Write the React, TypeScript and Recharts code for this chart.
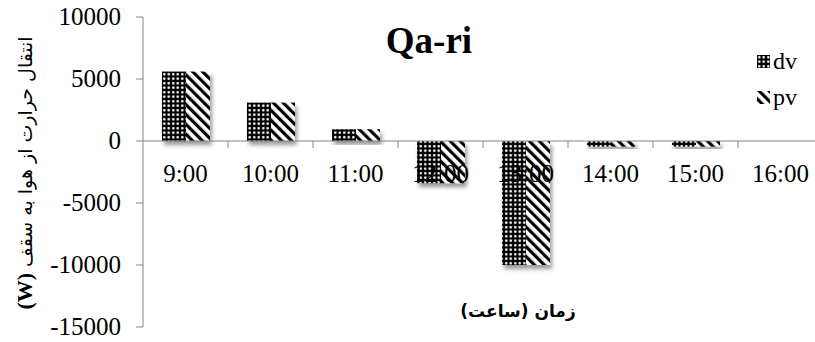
import React from 'react';
import { BarChart, Bar, XAxis, YAxis, ReferenceLine } from 'recharts';

const hours = ['9:00', '10:00', '11:00', '12:00', '13:00', '14:00', '15:00', '16:00'];
const dv = [5600, 3100, 950, -3400, -10000, -450, -450, 0];
const pv = [5600, 3100, 950, -3400, -10000, -450, -450, 0];
const seriesNames = ['dv', 'pv'];
const yTicks = [-15000, -10000, -5000, 0, 5000, 10000];
const Y_MIN = -15000;
const Y_MAX = 10000;

const data = hours.map((h, i) => ({ hour: h, dv: dv[i], pv: pv[i] }));

const W = 830;
const H = 342;
const X_AXIS_H = 1;
const M = { top: 17, right: 7, bottom: 15 - X_AXIS_H, left: 0 };
const Y_AXIS_W = 143;
const PLOT_W = W - M.left - M.right - Y_AXIS_W;
const PLOT_H = H - M.top - M.bottom - X_AXIS_H;
const BAND = PLOT_W / hours.length;
const ZERO_Y = M.top + (PLOT_H * (Y_MAX - 0)) / (Y_MAX - Y_MIN);

const AXIS = '#868686';
const SERIF = "'Liberation Serif', 'Times New Roman', serif";
const ARABIC = "'DejaVu Sans', sans-serif";

const XTick = (props: any) => {
  const { x, payload } = props;
  return (
    <g>
      <line x1={x + BAND / 2} x2={x + BAND / 2} y1={ZERO_Y} y2={ZERO_Y + 7} stroke={AXIS} strokeWidth={1} />
      <text x={x} y={ZERO_Y + 41} textAnchor="middle" style={{ fontFamily: SERIF, fontSize: 25 }} fill="#000">
        {payload.value}
      </text>
    </g>
  );
};

const YTick = (props: any) => {
  const { x, y, payload } = props;
  return (
    <text x={x} y={y} dy={8} textAnchor="end" style={{ fontFamily: SERIF, fontSize: 25 }} fill="#000">
      {payload.value}
    </text>
  );
};

const makeShape = (fillId: string) => (props: any) => {
  const { x, y, width, height } = props;
  if (!height) return <g />;
  const yy = height < 0 ? y + height : y;
  const hh = Math.abs(height);
  return <rect x={x} y={yy} width={width} height={hh} fill={`url(#${fillId})`} filter="url(#barShadow)" />;
};

export default function App() {
  return (
    <div style={{ position: 'absolute', left: 0, top: 0, width: 815, height: 342, overflow: 'hidden', background: '#fff' }}>
      <BarChart width={W} height={H} data={data} margin={M} barGap={0} barSize={24}>
        <defs>
          <pattern id="patDv" width={4.5} height={4.5} patternUnits="userSpaceOnUse">
            <rect width={4.5} height={4.5} fill="#000" />
            <circle cx={2.25} cy={2.25} r={1.3} fill="#fff" />
          </pattern>
          <pattern id="patPv" width={7} height={7} patternUnits="userSpaceOnUse" patternTransform="rotate(-45)">
            <rect width={7} height={7} fill="#fff" />
            <rect width={3.2} height={7} fill="#000" />
          </pattern>
          <filter id="barShadow" x="-20%" y="-20%" width="150%" height="150%">
            <feGaussianBlur in="SourceAlpha" stdDeviation={2} />
            <feOffset dx={2} dy={4} result="off" />
            <feComponentTransfer>
              <feFuncA type="linear" slope={0.4} />
            </feComponentTransfer>
            <feMerge>
              <feMergeNode />
              <feMergeNode in="SourceGraphic" />
            </feMerge>
          </filter>
        </defs>
        <YAxis
          width={Y_AXIS_W}
          domain={[Y_MIN, Y_MAX]}
          ticks={yTicks}
          interval={0}
          axisLine={{ stroke: AXIS }}
          tickLine={{ stroke: AXIS }}
          tickSize={7}
          tickMargin={15}
          tick={<YTick />}
        />
        <Bar dataKey="dv" name="dv" fill="url(#patDv)" isAnimationActive={false} shape={makeShape('patDv')} />
        <Bar dataKey="pv" name="pv" fill="url(#patPv)" isAnimationActive={false} shape={makeShape('patPv')} />
        <ReferenceLine y={0} stroke={AXIS} strokeWidth={1} />
        <XAxis dataKey="hour" height={X_AXIS_H} axisLine={false} tickLine={false} tick={<XTick />} interval={0} />
      </BarChart>
      <div style={{ position: 'absolute', left: 757, top: 43 }}>
        {seriesNames.map((n) => (
          <div key={n} style={{ display: 'flex', alignItems: 'center', height: 36, fontFamily: SERIF, fontSize: 24, color: '#000' }}>
            <svg width={13} height={13} style={{ marginRight: 3 }}>
              <rect x={0} y={0} width={13} height={13} fill={n === 'dv' ? 'url(#patDv)' : 'url(#patPv)'} />
            </svg>
            <span>{n}</span>
          </div>
        ))}
      </div>
      <svg width={815} height={342} style={{ position: 'absolute', left: 0, top: 0, pointerEvents: 'none' }}>
        <text x={429} y={53} textAnchor="middle" style={{ fontFamily: SERIF, fontWeight: 'bold', fontSize: 37 }} fill="#000">
          Qa-ri
        </text>
        <text x={518} y={317} textAnchor="middle" direction="rtl" style={{ fontFamily: ARABIC, fontWeight: 'bold', fontSize: 17 }} fill="#000">
          زمان (ساعت)
        </text>
        <text transform="translate(32 173) rotate(-90)" textAnchor="middle" direction="rtl" style={{ fontFamily: ARABIC, fontSize: 19 }} fill="#000">
          انتقال حرارت از هوا به سقف <tspan style={{ fontFamily: SERIF, fontWeight: 'bold', fontSize: 22 }}>(W)</tspan>
        </text>
      </svg>
    </div>
  );
}
